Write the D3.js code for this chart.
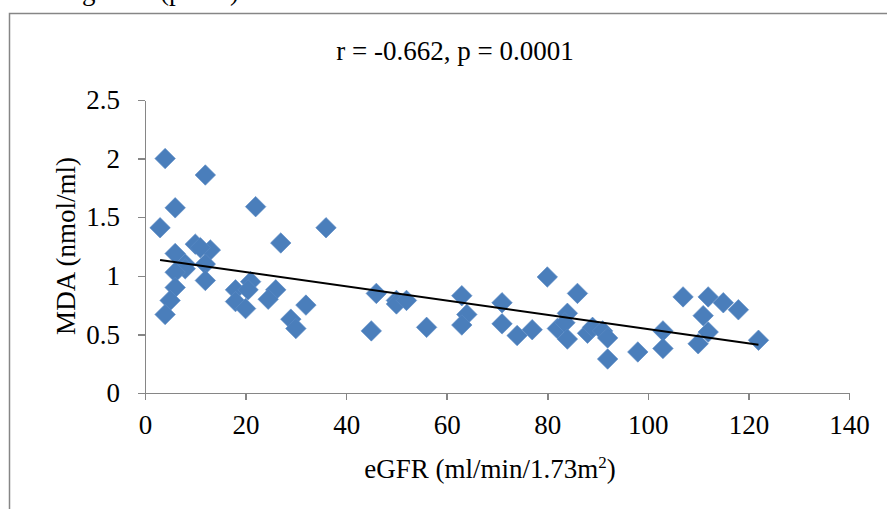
<!DOCTYPE html>
<html lang="en">
<head>
    <meta charset="UTF-8">
    <title>MDA vs eGFR</title>
    <script src="https://d3js.org/d3.v7.min.js"></script>
</head>
<style>
    body { margin: 0; background: #fff; }
    text { font-family: "Liberation Serif", "Times New Roman", serif; fill: #000; }
    .axis path, .axis line { stroke: #868686; stroke-width: 1.5px; shape-rendering: crispEdges; }
    .axis text { font-size: 27px; font-family: "Liberation Serif", "Times New Roman", serif; }
</style>
<body>
    <svg id="chart"></svg>
    <script>
        // eGFR (ml/min/1.73m2) and MDA (nmol/ml)
        var egfr = [4, 12, 6, 22, 3, 36, 27, 10, 13, 11, 6, 12, 8, 8, 6, 12, 21, 6, 18, 20.5,
            26, 18, 24.5, 5, 20, 32, 4, 29, 30, 46, 45, 50, 50, 52, 56, 63, 64, 63, 71, 71,
            74, 77, 80, 86, 84, 82, 83.5, 84, 88, 89, 91, 92, 92, 98, 103, 103, 107, 110, 111, 112,
            112, 115, 118, 122];
        var mda = [2.0, 1.86, 1.58, 1.59, 1.41, 1.41, 1.28, 1.27, 1.22, 1.24, 1.19, 1.1, 1.1, 1.06, 1.03, 0.96, 0.95, 0.9, 0.88, 0.88,
            0.88, 0.78, 0.8, 0.79, 0.72, 0.75, 0.67, 0.63, 0.55, 0.85, 0.53, 0.79, 0.76, 0.79, 0.56, 0.83, 0.67, 0.58, 0.77, 0.59,
            0.49, 0.54, 0.99, 0.85, 0.68, 0.55, 0.6, 0.46, 0.51, 0.56, 0.53, 0.47, 0.29, 0.35, 0.53, 0.38, 0.82, 0.42, 0.66, 0.82,
            0.52, 0.77, 0.71, 0.45];
        var xTicks = [0, 20, 40, 60, 80, 100, 120, 140];
        var yTicks = [0, 0.5, 1, 1.5, 2, 2.5];
        var title = "r = -0.662, p = 0.0001";

        var W = 887, H = 509;
        var svg = d3.select("#chart").attr("width", W).attr("height", H);

        // chart frame (cut by the page edge)
        svg.append("path")
            .attr("d", "M9.5," + H + "V13.5H" + W)
            .attr("fill", "none")
            .attr("stroke", "#868686")
            .attr("stroke-width", 1.5);

        // caption text cut off above the frame
        var cut = svg.append("g").style("font-size", "27px");
        cut.append("text").attr("x", 82).attr("y", 0).text("g");
        cut.append("text").attr("x", 160).attr("y", 0).text("(p");
        cut.append("text").attr("x", 230).attr("y", 0).text(")");

        var x = d3.scaleLinear().domain([0, 140]).range([145, 849]);
        var y = d3.scaleLinear().domain([0, 2.5]).range([393, 100]);

        svg.append("g")
            .attr("class", "axis")
            .attr("transform", "translate(0," + y(0) + ")")
            .call(d3.axisBottom(x).tickValues(xTicks).tickSize(7).tickSizeOuter(0).tickPadding(15).tickFormat(d3.format("d")));

        svg.append("g")
            .attr("class", "axis")
            .attr("transform", "translate(" + x(0) + ",0)")
            .call(d3.axisLeft(y).tickValues(yTicks).tickSize(7).tickSizeOuter(0).tickPadding(18).tickFormat(function(d) { return d; }));

        // trend line (least squares)
        var mx = d3.mean(egfr), my = d3.mean(mda);
        var sxy = d3.sum(egfr, function(v, i) { return (v - mx) * (mda[i] - my); });
        var sxx = d3.sum(egfr, function(v) { return (v - mx) * (v - mx); });
        var b = sxy / sxx, a = my - b * mx;
        var x0 = d3.min(egfr), x1 = d3.max(egfr);

        // points
        var diamond = d3.symbol().type(d3.symbolSquare).size(210);
        svg.append("g").selectAll("path")
            .data(egfr)
            .enter().append("path")
            .attr("d", diamond)
            .attr("fill", "#4a7ebb")
            .attr("stroke", "#5a8ac4")
            .attr("stroke-width", 0.6)
            .attr("transform", function(d, i) {
                return "translate(" + x(d) + "," + y(mda[i]) + ") rotate(45)";
            });

        svg.append("line")
            .attr("x1", x(x0)).attr("y1", y(a + b * x0))
            .attr("x2", x(x1)).attr("y2", y(a + b * x1))
            .attr("stroke", "#000")
            .attr("stroke-width", 2);

        svg.append("text")
            .attr("x", 455).attr("y", 60)
            .attr("text-anchor", "middle")
            .style("font-size", "27px")
            .text(title);

        var xt = svg.append("text")
            .attr("x", 490).attr("y", 478)
            .attr("text-anchor", "middle")
            .style("font-size", "27px");
        xt.append("tspan").text("eGFR (ml/min/1.73m");
        xt.append("tspan").attr("dy", -10).style("font-size", "17px").text("2");
        xt.append("tspan").attr("dy", 10).text(")");

        svg.append("text")
            .attr("transform", "translate(75,246) rotate(-90)")
            .attr("text-anchor", "middle")
            .style("font-size", "27px")
            .text("MDA (nmol/ml)");
    </script>
</body>
</html>
